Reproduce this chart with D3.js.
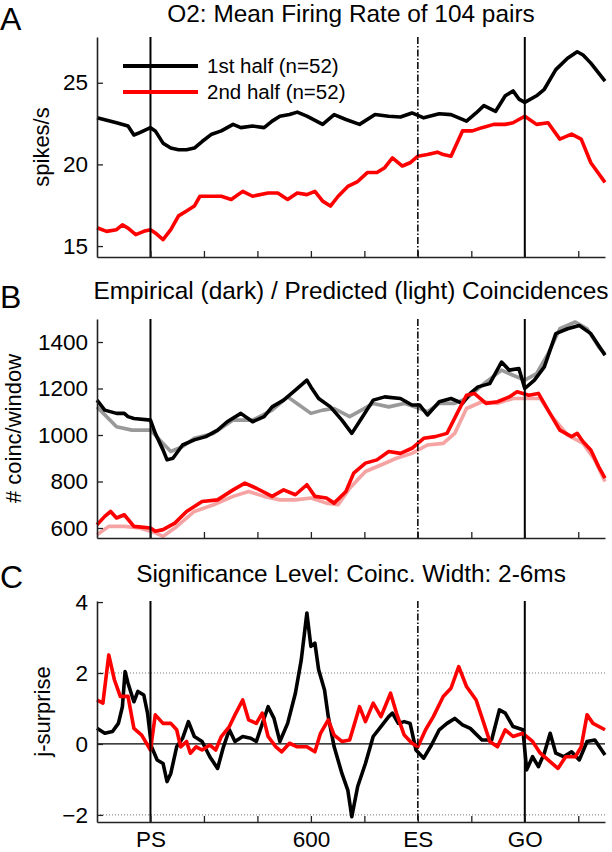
<!DOCTYPE html>
<html>
<head>
<meta charset="UTF-8">
<title>Firing rate / coincidences / surprise</title>
<style>
  body { margin: 0; background: #fff; }
  svg { display: block; }
  text { font-family: "Liberation Sans", Arial, sans-serif; }
</style>
</head>
<body>
<script src="https://cdn.jsdelivr.net/npm/d3@7"></script>
<div id="chart"></div>
<script>
// --- data (time in ms, PS = 0) ---
const xTicks = [0, 200, 400, 600, 800, 1000, 1200, 1400, 1600];
const xTickLabels = {0: "PS", 600: "600", 1000: "ES", 1400: "GO"};
const events = [{t: 0, type: "solid"}, {t: 1000, type: "dashdot"}, {t: 1400, type: "solid"}];

// A: mean firing rate
const tRate1 = [-200,-127,-84,-62,-40,0,18,47,76,105,135,164,193,229,265,309,338,382,425,455,484,520,549,585,644,687,731,782,840,891,935,978,1022,1080,1124,1182,1218,1247,1291,1327,1356,1378,1400,1444,1473,1516,1560,1596,1618,1647,1700];
const rate1  = [22.86,22.55,22.35,21.8,21.95,22.25,22.05,21.3,21.0,20.9,20.9,21.0,21.4,21.85,22.05,22.45,22.25,22.35,22.25,22.65,22.95,23.05,23.2,22.95,22.45,23.05,22.75,22.45,23.05,22.95,22.9,23.15,22.85,23.1,23.05,22.65,23.15,23.6,23.25,24.2,24.5,24.0,23.8,24.2,24.6,25.8,26.5,26.9,26.7,26.2,25.1];
const tRate2 = [-200,-164,-127,-105,-84,-55,-25,0,18,47,76,105,135,164,185,229,265,302,345,382,440,476,513,549,585,615,644,673,702,738,775,811,847,876,905,942,971,1000,1036,1073,1095,1124,1167,1204,1240,1284,1327,1356,1400,1444,1487,1531,1575,1611,1647,1700];
const rate2  = [16.12,15.9,16.0,16.3,16.1,15.7,15.9,16.0,15.8,15.4,16.0,16.85,17.15,17.45,18.05,18.05,18.05,17.85,18.35,18.05,18.25,18.25,17.85,18.25,18.15,18.35,17.75,17.45,18.05,18.65,18.95,19.5,19.5,19.8,20.4,19.9,20.1,20.5,20.6,20.75,20.6,20.5,22.05,22.05,22.25,22.45,22.45,22.55,22.95,22.45,22.55,21.55,21.85,21.55,20.1,18.9];

// B: coincidences per window
const tEmp1 = [-200,-171,-127,-98,-84,-62,0,18,47,62,84,120,164,207,251,287,338,382,425,455,498,542,585,600,629,673,716,753,789,833,876,935,978,1007,1036,1080,1124,1167,1196,1225,1269,1313,1342,1378,1400,1436,1473,1516,1560,1604,1647,1700];
const emp1  = [1150,1107,1093,1093,1079,1071,1064,1007,936,893,900,957,979,993,1021,1057,1093,1057,1079,1121,1150,1193,1236,1207,1157,1121,1064,1007,1071,1150,1164,1157,1129,1129,1086,1143,1157,1136,1179,1207,1221,1314,1279,1286,1200,1236,1293,1436,1457,1471,1436,1343];
const tPred1 = [-200,-127,-69,0,47,76,120,164,236,309,382,455,513,556,600,644,687,745,789,833,891,949,1007,1036,1080,1138,1182,1240,1313,1356,1400,1444,1487,1531,1589,1633,1676,1700];
const pred1  = [1121,1036,1021,1021,964,929,950,986,1007,1064,1064,1107,1164,1129,1093,1107,1114,1079,1107,1136,1121,1136,1114,1100,1136,1136,1157,1214,1279,1257,1236,1264,1350,1457,1486,1457,1379,1350];
const tEmp2 = [-200,-171,-149,-127,-98,-62,0,18,47,91,135,193,251,309,353,396,455,498,542,585,615,658,687,731,760,804,847,891,935,978,1022,1065,1109,1153,1182,1211,1255,1298,1342,1371,1415,1451,1487,1531,1575,1596,1618,1647,1676,1700];
const emp2  = [614,650,671,643,657,607,600,586,593,621,671,714,721,764,793,771,736,764,743,786,736,729,707,757,836,879,893,929,921,943,986,993,1007,1107,1171,1179,1136,1143,1164,1186,1171,1179,1107,1021,993,1007,971,936,864,815];
const tPred2 = [-200,-156,-98,-40,18,47,91,164,236,309,367,425,484,542,600,658,702,745,804,862,920,978,1036,1095,1138,1182,1240,1298,1356,1415,1458,1502,1560,1618,1662,1700];
const pred2  = [571,607,607,600,579,564,600,671,700,736,757,736,721,721,729,707,700,771,843,871,900,921,957,964,1007,1114,1143,1136,1157,1157,1157,1079,1000,964,893,800];

// C: joint surprise
const tSur1 = [-200,-171,-142,-120,-105,-95,-84,-62,-47,-25,-11,4,25,47,62,76,98,120,142,164,193,222,251,273,295,316,345,375,396,425,440,462,484,513,542,564,585,600,615,629,651,665,687,716,738,753,775,804,833,862,891,905,927,949,971,993,1022,1051,1080,1109,1138,1167,1196,1240,1276,1305,1327,1356,1393,1407,1429,1451,1473,1495,1516,1545,1575,1604,1633,1662,1700];
const sur1  = [0.44,0.30,0.35,0.58,1.05,2.04,1.71,1.19,1.48,1.38,0.87,-0.08,-0.45,-0.55,-1.06,-0.83,-0.08,0.16,0.63,0.21,0.07,-0.36,-0.69,-0.08,0.40,0.07,0.21,0.16,0.07,0.72,1.05,0.72,0.07,0.58,1.43,2.37,3.69,2.75,2.84,2.09,1.52,0.77,-0.08,-0.83,-1.30,-2.05,-1.20,-0.55,0.21,0.49,0.77,0.87,0.58,0.63,0.58,-0.17,-0.40,-0.03,0.40,0.58,0.72,0.54,0.44,0.11,0.11,0.96,0.87,0.49,0.40,-0.73,-0.36,-0.64,-0.26,0.30,-0.26,-0.36,-0.22,-0.45,0.07,0.11,-0.31];
const tSur2 = [-200,-178,-156,-135,-113,-84,-62,-33,0,18,47,76,98,113,135,149,171,193,222,244,265,295,316,345,367,396,418,440,469,491,520,549,585,615,636,665,687,716,745,782,804,833,862,898,920,949,978,1000,1029,1058,1095,1124,1153,1182,1218,1247,1269,1298,1327,1356,1393,1429,1458,1487,1524,1553,1589,1611,1633,1655,1700];
const sur2  = [1.24,1.15,2.51,1.81,1.34,1.34,0.44,0.25,-0.17,0.82,0.58,0.58,0.40,-0.08,0.07,-0.26,-0.08,-0.17,-0.03,-0.17,0.21,0.49,0.82,1.24,0.68,0.58,0.87,0.21,-0.08,-0.22,0.02,-0.08,-0.08,-0.22,0.30,0.68,0.25,0.07,0.11,1.05,0.63,1.15,0.77,1.43,0.87,0.25,0.02,-0.08,0.40,0.77,1.34,1.57,2.18,1.62,1.24,0.58,0.07,-0.08,0.40,0.21,0.30,0.07,-0.26,-0.45,-0.69,-0.36,-0.36,-0.08,0.82,0.58,0.40];

const zip = (ts, vs) => ts.map((t, i) => [t, vs[i]]);

const W = 612, H = 852;
const FONT = "'Liberation Sans', Arial, sans-serif";
const svg = d3.select("#chart").append("svg")
  .attr("width", W).attr("height", H);

const x = d3.scaleLinear().domain([-200, 1700]).range([97, 605]);

const panels = [
  {letter: "A", title: "O2: Mean Firing Rate of 104 pairs", ylabel: "spikes/s",
   top: 37, bottom: 257, domain: [14.33, 27.8], ticks: [15, 20, 25], labelX: 49,
   letterY: 30, titleY: 22,
   series: [
     {d: zip(tRate1, rate1), color: "#000"},
     {d: zip(tRate2, rate2), color: "#ff0000"}
   ]},
  {letter: "B", title: "Empirical (dark) / Predicted (light) Coincidences", ylabel: "# coinc/window",
   top: 319, bottom: 538, domain: [557, 1499], ticks: [600, 800, 1000, 1200, 1400], labelX: 21,
   letterY: 308, titleY: 299,
   series: [
     {d: zip(tPred1, pred1), color: "#999999"},
     {d: zip(tPred2, pred2), color: "#f5a3a3"},
     {d: zip(tEmp1, emp1), color: "#000"},
     {d: zip(tEmp2, emp2), color: "#ff0000"}
   ]},
  {letter: "C", title: "Significance Level: Coinc. Width: 2-6ms", ylabel: "j-surprise",
   top: 601, bottom: 822, domain: [-2.2, 4.03], ticks: [-2, 0, 2, 4], labelX: 50,
   letterY: 588, titleY: 582, xlabels: true,
   series: [
     {d: zip(tSur1, sur1), color: "#000"},
     {d: zip(tSur2, sur2), color: "#ff0000"}
   ]}
];

panels.forEach(p => {
  const y = d3.scaleLinear().domain(p.domain).range([p.bottom, p.top]);
  const g = svg.append("g");

  // significance levels in C
  if (p.letter === "C") {
    g.selectAll(".sig").data([2, -2]).join("line")
      .attr("x1", x(-200)).attr("x2", x(1700))
      .attr("y1", d => y(d)).attr("y2", d => y(d))
      .attr("stroke", "#777").attr("stroke-width", 1)
      .attr("stroke-dasharray", "1,2");
    g.append("line")
      .attr("x1", x(-200)).attr("x2", x(1700))
      .attr("y1", y(0)).attr("y2", y(0))
      .attr("stroke", "#000").attr("stroke-width", 1.2);
  }

  const line = d3.line().x(d => x(d[0])).y(d => y(d[1]));
  g.selectAll(".series").data(p.series).join("path")
    .attr("d", s => line(s.d))
    .attr("fill", "none")
    .attr("stroke", s => s.color)
    .attr("stroke-width", 3.6)
    .attr("stroke-linejoin", "round");

  // event markers
  g.selectAll(".ev").data(events).join("line")
    .attr("x1", e => x(e.t)).attr("x2", e => x(e.t))
    .attr("y1", p.top).attr("y2", p.bottom)
    .attr("stroke", "#000")
    .attr("stroke-width", e => e.type === "solid" ? 2 : 1.5)
    .attr("stroke-dasharray", e => e.type === "solid" ? null : "7,2,1.5,2");

  // axes
  const ya = g.append("g")
    .attr("transform", `translate(${x(-200)},0)`)
    .call(d3.axisLeft(y).tickValues(p.ticks).tickSize(-6).tickSizeOuter(0).tickPadding(9)
      .tickFormat(d3.format("d")));
  const xa = g.append("g")
    .attr("transform", `translate(0,${p.bottom})`)
    .call(d3.axisBottom(x).tickValues(xTicks).tickSize(-6).tickSizeOuter(0).tickPadding(9)
      .tickFormat(d => p.xlabels ? (xTickLabels[d] || "") : ""));
  [ya, xa].forEach(a => {
    a.attr("font-family", FONT);
    a.select(".domain").attr("stroke", "#222").attr("stroke-width", 1.6);
    a.selectAll(".tick line").attr("stroke", "#222").attr("stroke-width", 1.3);
    a.selectAll("text").attr("font-size", 22.5).attr("fill", "#000");
  });

  // titles & labels
  svg.append("text").attr("x", 351).attr("y", p.titleY)
    .attr("text-anchor", "middle").attr("font-size", 24.4).text(p.title);
  svg.append("text").attr("x", 0).attr("y", p.letterY)
    .attr("font-size", 32).text(p.letter);
  svg.append("text")
    .attr("transform", `translate(${p.labelX},${(p.top + p.bottom) / 2}) rotate(-90)`)
    .attr("text-anchor", "middle").attr("font-size", 22).text(p.ylabel);
});

// legend in A
const legend = [{label: "1st half (n=52)", color: "#000", y: 66},
                {label: "2nd half (n=52)", color: "#ff0000", y: 92}];
const lg = svg.append("g");
lg.selectAll("line").data(legend).join("line")
  .attr("x1", 123).attr("x2", 198)
  .attr("y1", d => d.y).attr("y2", d => d.y)
  .attr("stroke", d => d.color).attr("stroke-width", 4);
lg.selectAll("text").data(legend).join("text")
  .attr("x", 207).attr("y", d => d.y + 7)
  .attr("font-size", 20.5).text(d => d.label);
</script>
</body>
</html>
